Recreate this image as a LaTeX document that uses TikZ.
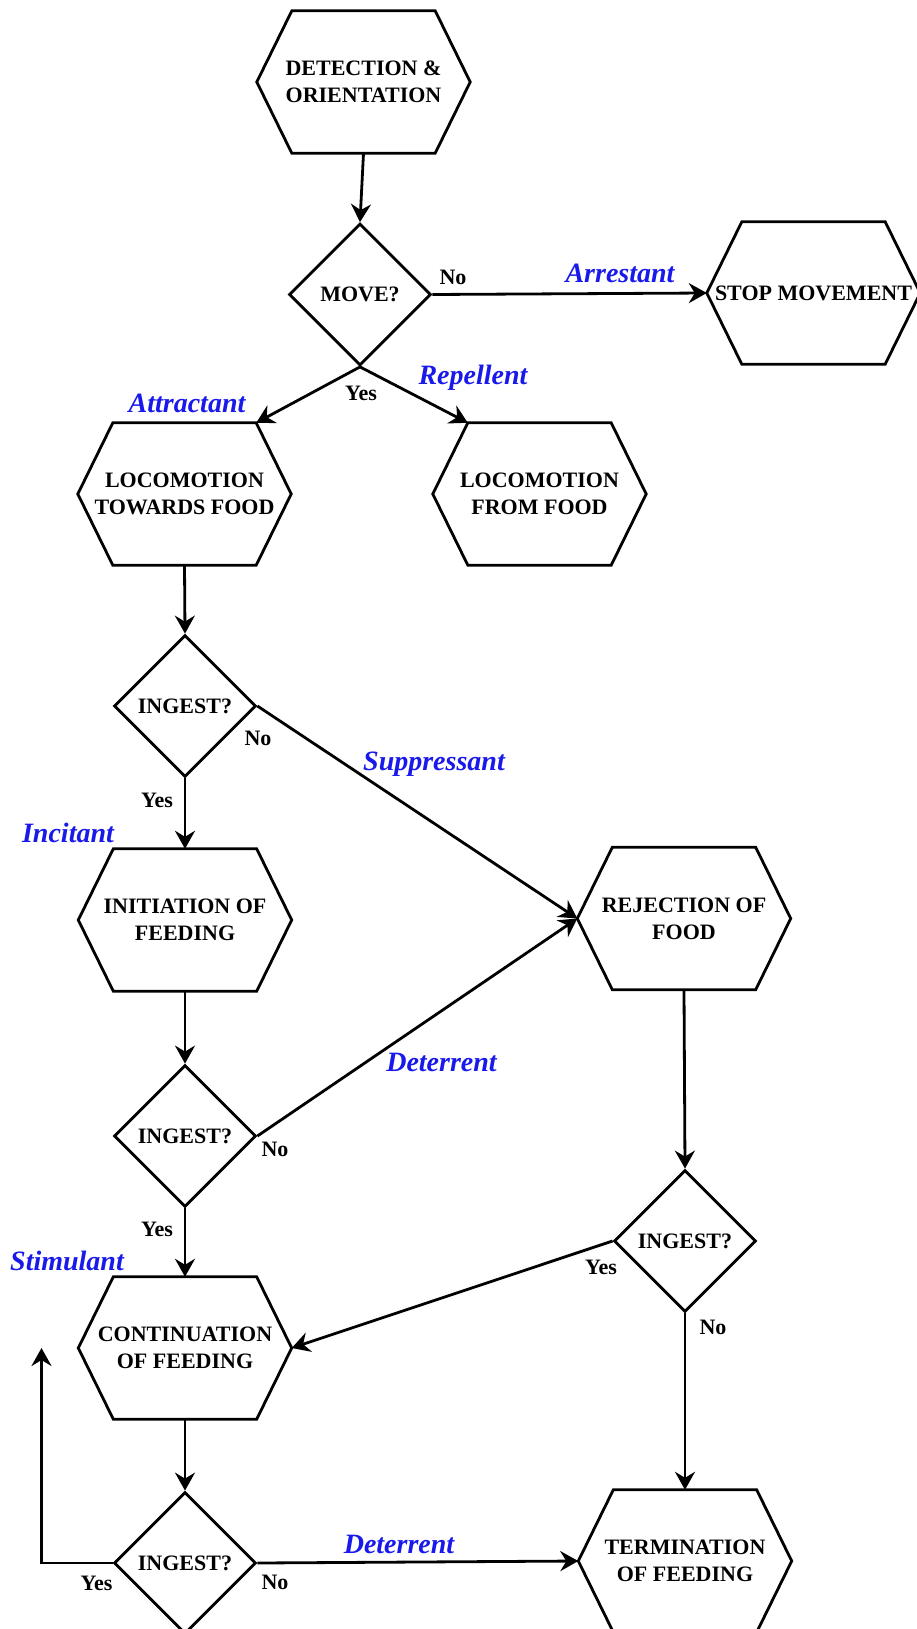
\documentclass[tikz,border=0pt]{standalone}
\usepackage{fontspec}
\setmainfont{Liberation Serif}
\usetikzlibrary{shapes.geometric,arrows.meta}
\definecolor{agentblue}{RGB}{25,25,235}
\newcommand{\myNodeFont}{\fontsize{22}{27}\selectfont\bfseries}
\newcommand{\myYnFont}{\fontsize{22}{26}\selectfont\bfseries}
\newcommand{\myAgentFont}{\fontsize{28}{32}\selectfont\bfseries\itshape}
\newcommand{\hexdraw}[1]{\draw[line width=2.8pt, line join=miter] (#1.west) -- ([xshift=35pt]#1.north west) -- ([xshift=-35pt]#1.north east) -- (#1.east) -- ([xshift=-35pt]#1.south east) -- ([xshift=35pt]#1.south west) -- cycle;}
\tikzset{
  hexbox/.style={draw=none, minimum width=213pt, minimum height=142pt, inner sep=0pt, align=center, font=\myNodeFont},
  decision/.style={diamond, draw, line width=2.8pt, minimum width=142pt, minimum height=142pt, inner sep=0pt, aspect=1, font=\myNodeFont},
  conn/.style={line width=2.8pt, line join=miter, -{Stealth[length=18pt,width=20pt,inset=6pt]}},
  yn/.style={font=\myYnFont, inner sep=0pt},
  agent/.style={font=\myAgentFont, text=agentblue, inner sep=0pt},
}
\begin{document}
\begin{tikzpicture}[x=1pt,y=-1pt]
\useasboundingbox (0,0) rectangle (917,1629);
\fill[white] (0,0) rectangle (917,1629);
\clip (0,0) rectangle (917,1629);

% nodes
\node[hexbox] (det) at (363.5,82) {DETECTION \&\\ORIENTATION};
\node[decision] (move) at (360,294.5) {MOVE?};
\node[hexbox] (stop) at (813.5,293) {STOP MOVEMENT};
\node[hexbox] (tow) at (184.5,494) {LOCOMOTION\\TOWARDS FOOD};
\node[hexbox] (from) at (539.5,494) {LOCOMOTION\\FROM FOOD};
\node[decision] (i1) at (185,706) {INGEST?};
\node[hexbox] (init) at (185,920) {INITIATION OF\\FEEDING};
\node[hexbox] (rej) at (684,918.5) {REJECTION OF\\FOOD};
\node[decision] (i2) at (185,1136) {INGEST?};
\node[decision] (i3) at (685,1241) {INGEST?};
\node[hexbox] (cont) at (185,1348) {CONTINUATION\\OF FEEDING};
\node[decision] (i4) at (185,1563) {INGEST?};
\node[hexbox] (term) at (685,1561) {TERMINATION\\OF FEEDING};

\hexdraw{det}
\hexdraw{stop}
\hexdraw{tow}
\hexdraw{from}
\hexdraw{init}
\hexdraw{rej}
\hexdraw{cont}
\hexdraw{term}

\coordinate (loopcorner) at (41.5,1563);
\coordinate (looptip) at (41.5,1348);

% connectors
\draw[conn] (det.south) -- (move.north);
\draw[conn] (move.east) -- (stop.west);
\draw[conn] (move.south) -- ([xshift=-35pt]tow.north east);
\draw[conn] (move.south) -- ([xshift=35pt]from.north west);
\draw[conn] (tow.south) -- (i1.north);
\draw[conn] (i1.south) -- (init.north);
\draw[conn] (i1.east) -- (rej.west);
\draw[conn] (init.south) -- (i2.north);
\draw[conn] (i2.east) -- (rej.west);
\draw[conn] (i2.south) -- (cont.north);
\draw[conn] (rej.south) -- (i3.north);
\draw[conn] (i3.west) -- (cont.east);
\draw[conn] (i3.south) -- (term.north);
\draw[conn] (cont.south) -- (i4.north);
\draw[conn] (i4.east) -- (term.west);
\draw[conn] (i4.west) -- (loopcorner) -- (looptip);

% labels
\node[yn] (l1) at (453,277) {No};
\node[agent] (l2) at (620,273) {Arrestant};
\node[yn] (l3) at (361,393) {Yes};
\node[agent] (l4) at (473,378) {Repellent};
\node[agent] (l5) at (187,403) {Attractant};
\node[yn] (l6) at (258,738) {No};
\node[agent] (l7) at (434,764) {Suppressant};
\node[yn] (l8) at (157,800) {Yes};
\node[agent] (l9) at (68,833) {Incitant};
\node[yn] (l10) at (275,1149) {No};
\node[agent] (l11) at (441.5,1062) {Deterrent};
\node[yn] (l12) at (157,1229) {Yes};
\node[agent] (l13) at (67,1261) {Stimulant};
\node[yn] (l14) at (601,1267) {Yes};
\node[yn] (l15) at (713,1327) {No};
\node[yn] (l16) at (96.5,1583) {Yes};
\node[yn] (l17) at (275,1582) {No};
\node[agent] (l18) at (399,1544) {Deterrent};
\end{tikzpicture}
\end{document}
